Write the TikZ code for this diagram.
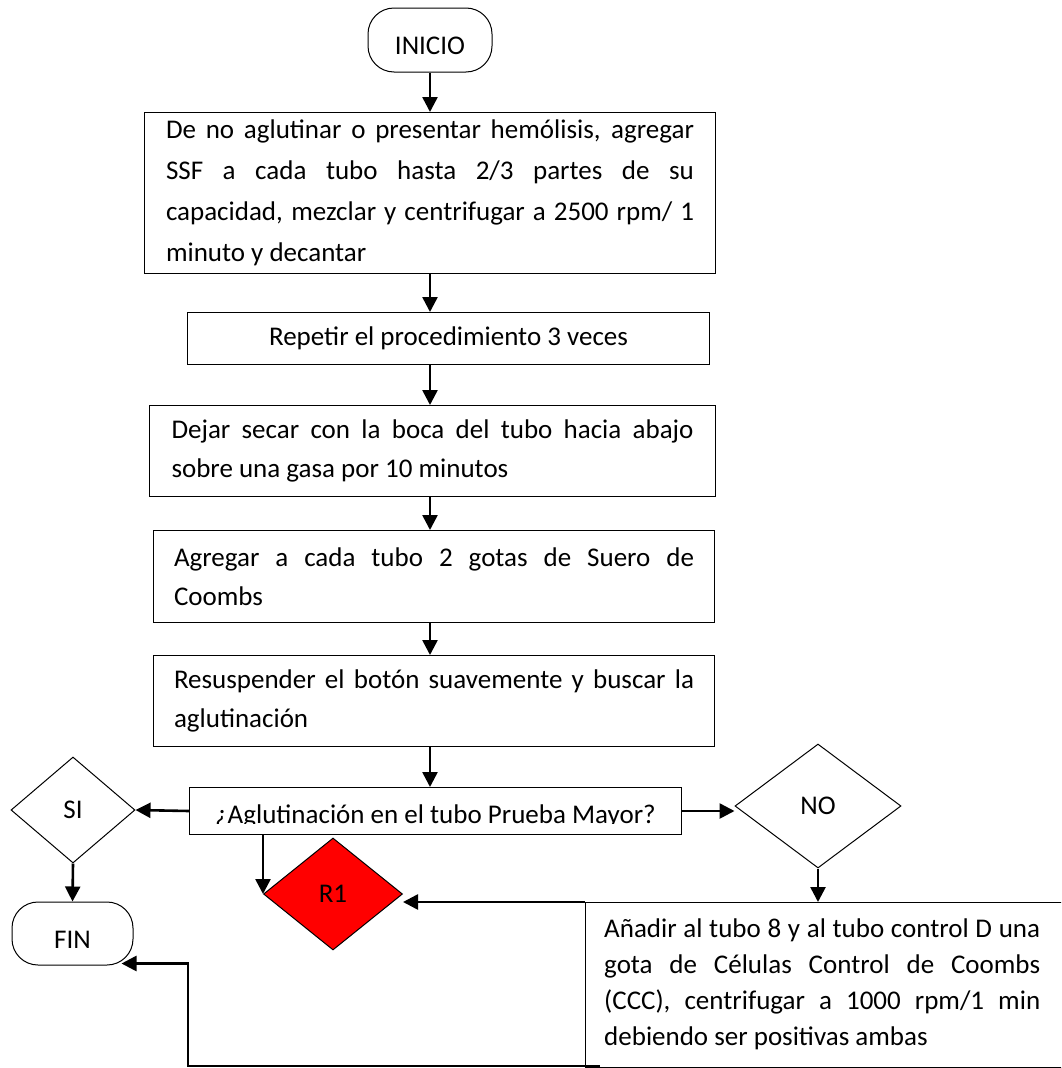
\documentclass[tikz,border=0pt]{standalone}
\usepackage{fontspec}
\setmainfont{Carlito}
\usetikzlibrary{arrows.meta,shapes.geometric}

\begin{document}
\begin{tikzpicture}[
    x=1pt, y=-1pt,
    font=\fontsize{27}{39}\selectfont,
    stepbox/.style={draw, line width=1pt, anchor=north west, inner sep=0pt, align=justify},
    terminal/.style={draw, line width=1pt, rounded corners=26pt, minimum width=124pt,
        minimum height=64pt, text height=29pt, text depth=0pt, inner sep=0pt},
    decision/.style={draw, line width=1pt, diamond, inner sep=0pt},
    flow/.style={line width=2.6pt, -{Triangle[length=15pt,width=15pt]}}
]
\clip (0,0) rectangle (1061,1068);

% main column
\node[terminal] (start) at (430,40) {INICIO};
\node[stepbox, minimum width=571pt, minimum height=161pt, text width=528pt,
    font=\fontsize{27}{41}\selectfont] (b1) at (144,112)
    {De no aglutinar o presentar hemólisis, agregar\linebreak
     SSF a cada tubo hasta 2/3 partes de su\linebreak
     capacidad, mezclar y centrifugar a 2500 rpm/ 1\linebreak
     minuto y decantar};
\node[stepbox, minimum width=522pt, minimum height=52pt, align=center] (b2) at (187,312)
    {Repetir el procedimiento 3 veces};
\node[stepbox, minimum width=566pt, minimum height=91pt, text width=522pt] (b3) at (149,405)
    {Dejar secar con la boca del tubo hacia abajo\linebreak
     sobre una gasa por 10 minutos};
\node[stepbox, minimum width=561pt, minimum height=92pt, text width=520pt] (b4) at (153,530)
    {Agregar a cada tubo 2 gotas de Suero de\linebreak
     Coombs};
\node[stepbox, minimum width=561pt, minimum height=91pt, text width=520pt] (b5) at (153,655)
    {Resuspender el botón suavemente y buscar la\linebreak
     aglutinación};

% the question box is too low for its text: cut the text at the baseline
\node[stepbox, minimum width=492pt, minimum height=47pt] (q) at (189,787) {};
\begin{scope}
    \clip (q.north west) rectangle ([yshift=12pt]q.south east);
    \node[anchor=base, inner sep=0pt] (qtext) at ([yshift=12pt]q.south)
        {¿Aglutinación en el tubo Prueba Mayor?};
\end{scope}

% branches
\node[decision, minimum width=124pt, minimum height=106pt] (si) at (73,810) {SI};
\node[decision, minimum width=166pt, minimum height=124pt] (no) at (818,806) {NO};
\node[decision, fill=red, minimum width=139pt, minimum height=112pt] (r1) at (333,894) {R1};
\node[terminal, minimum width=121pt, minimum height=63pt] (fin) at (72.5,933.5) {FIN};

% last step, runs off the page at the right and bottom
\node[anchor=north west, inner xsep=19pt, inner ysep=0pt, text width=436pt,
    minimum height=165pt, align=justify, font=\fontsize{27}{36}\selectfont] (add) at (585,902)
    {Añadir al tubo 8 y al tubo control D una\linebreak
     gota de Células Control de Coombs\linebreak
     (CCC), centrifugar a 1000 rpm/1 min\linebreak
     debiendo ser positivas ambas};
\draw[line width=1pt] (add.south west) rectangle ([xshift=40pt]add.north east);

% connectors
\foreach \a/\b in {start/b1,b1/b2,b2/b3,b3/b4,b4/b5,b5/q}
    \draw[flow] (\a.south -| start) -- (\b.north -| start);
\draw[flow] (q.west) -- (si.east);
\draw[flow] (q.east) -- (q.east -| no.west);
\draw[flow] (q.south -| r1.west) -- (r1.west);
\draw[flow] (si.south) -- (fin.north);
\draw[flow] (no.south) -- (no.south |- add.north);
\draw[flow] (add.north west) -- (add.north west -| r1.east);
\coordinate (back) at ([xshift=15pt,yshift=1.5pt]add.south west);
\coordinate (turn) at (188,0);
\draw[flow] (back) -- (back -| turn) |- ([xshift=-12pt,yshift=2pt]fin.south east);
\end{tikzpicture}
\end{document}
